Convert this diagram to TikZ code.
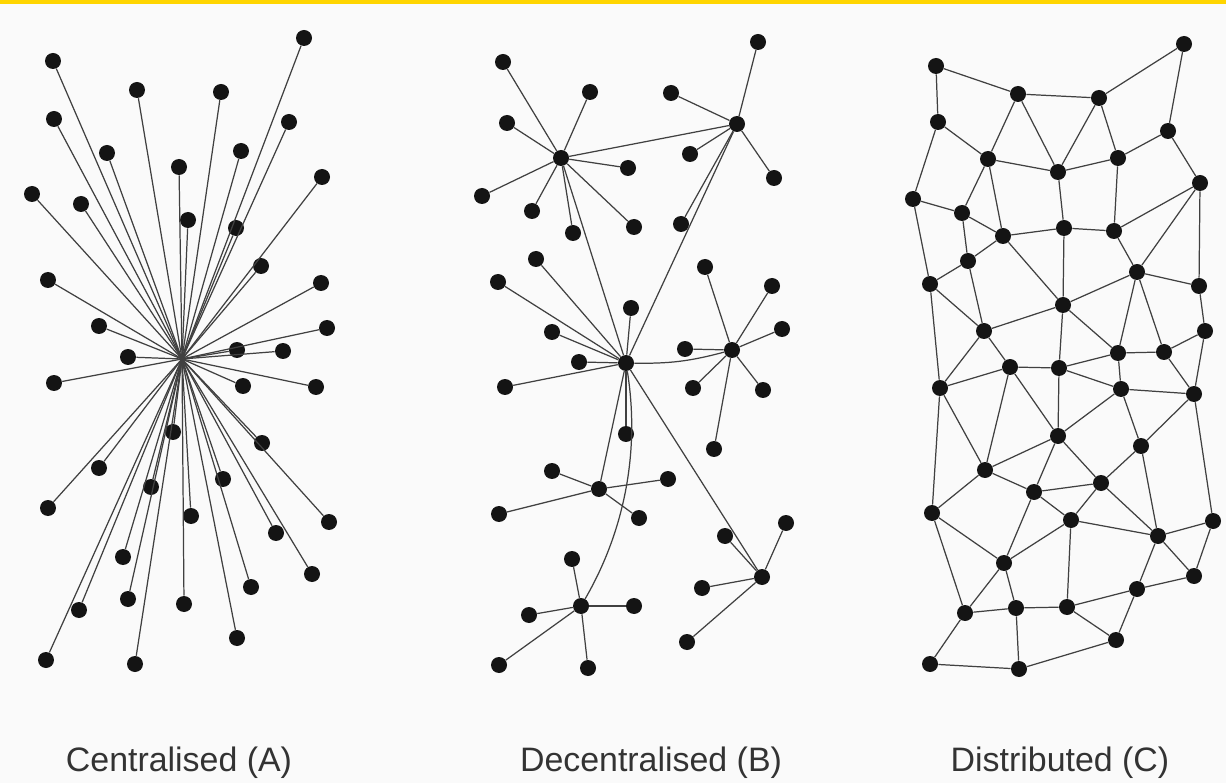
\documentclass[tikz,border=0pt]{standalone}
\usepackage{fontspec}
\newfontfamily\netfont{Liberation Sans}
\usepackage{tikz}
\definecolor{paper}{HTML}{FAFAFA}
\definecolor{bar}{HTML}{FFD500}
\begin{document}
\begin{tikzpicture}[x=.02cm, y=-.02cm,
peer/.style={inner sep=0pt, minimum size=.32cm, fill=black!92, circle},
link/.style={draw=black!75, line width=.7pt},
caption/.style={anchor=base, text=black!80, font=\netfont\fontsize{19.3}{23}\selectfont}]
\fill [paper] (0,0) rectangle (1226,783);
\fill [bar] (0,0) rectangle (1226,4);
\useasboundingbox (0,0) rectangle (1226,783);

\coordinate (a0) at (182,359);
\node [peer] (a1) at (304,38) {};
\node [peer] (a2) at (53,61) {};
\node [peer] (a3) at (137,90) {};
\node [peer] (a4) at (221,92) {};
\node [peer] (a5) at (54,119) {};
\node [peer] (a6) at (289,122) {};
\node [peer] (a7) at (107,153) {};
\node [peer] (a8) at (241,151) {};
\node [peer] (a9) at (179,167) {};
\node [peer] (a10) at (322,177) {};
\node [peer] (a11) at (32,194) {};
\node [peer] (a12) at (81,204) {};
\node [peer] (a13) at (188,220) {};
\node [peer] (a14) at (236,228) {};
\node [peer] (a15) at (261,266) {};
\node [peer] (a16) at (48,280) {};
\node [peer] (a17) at (321,283) {};
\node [peer] (a18) at (99,326) {};
\node [peer] (a19) at (327,328) {};
\node [peer] (a20) at (128,357) {};
\node [peer] (a21) at (237,350) {};
\node [peer] (a22) at (283,351) {};
\node [peer] (a23) at (54,383) {};
\node [peer] (a24) at (243,386) {};
\node [peer] (a25) at (316,387) {};
\node [peer] (a26) at (173,432) {};
\node [peer] (a27) at (262,443) {};
\node [peer] (a28) at (99,468) {};
\node [peer] (a29) at (151,487) {};
\node [peer] (a30) at (223,479) {};
\node [peer] (a31) at (48,508) {};
\node [peer] (a32) at (191,516) {};
\node [peer] (a33) at (329,522) {};
\node [peer] (a34) at (276,533) {};
\node [peer] (a35) at (123,557) {};
\node [peer] (a36) at (312,574) {};
\node [peer] (a37) at (251,587) {};
\node [peer] (a38) at (128,599) {};
\node [peer] (a39) at (184,604) {};
\node [peer] (a40) at (79,610) {};
\node [peer] (a41) at (237,638) {};
\node [peer] (a42) at (46,660) {};
\node [peer] (a43) at (135,664) {};
\draw [link] (a0) edge (a1);
\draw [link] (a0) edge (a2);
\draw [link] (a0) edge (a3);
\draw [link] (a0) edge (a4);
\draw [link] (a0) edge (a5);
\draw [link] (a0) edge (a6);
\draw [link] (a0) edge (a7);
\draw [link] (a0) edge (a8);
\draw [link] (a0) edge (a9);
\draw [link] (a0) edge (a10);
\draw [link] (a0) edge (a11);
\draw [link] (a0) edge (a12);
\draw [link] (a0) edge (a13);
\draw [link] (a0) edge (a14);
\draw [link] (a0) edge (a15);
\draw [link] (a0) edge (a16);
\draw [link] (a0) edge (a17);
\draw [link] (a0) edge (a18);
\draw [link] (a0) edge (a19);
\draw [link] (a0) edge (a20);
\draw [link] (a0) edge (a21);
\draw [link] (a0) edge (a22);
\draw [link] (a0) edge (a23);
\draw [link] (a0) edge (a24);
\draw [link] (a0) edge (a25);
\draw [link] (a0) edge (a26);
\draw [link] (a0) edge (a27);
\draw [link] (a0) edge (a28);
\draw [link] (a0) edge (a29);
\draw [link] (a0) edge (a30);
\draw [link] (a0) edge (a31);
\draw [link] (a0) edge (a32);
\draw [link] (a0) edge (a33);
\draw [link] (a0) edge (a34);
\draw [link] (a0) edge (a35);
\draw [link] (a0) edge (a36);
\draw [link] (a0) edge (a37);
\draw [link] (a0) edge (a38);
\draw [link] (a0) edge (a39);
\draw [link] (a0) edge (a40);
\draw [link] (a0) edge (a41);
\draw [link] (a0) edge (a42);
\draw [link] (a0) edge (a43);

\node [peer] (d1) at (561,158) {};
\node [peer] (d2) at (737,124) {};
\node [peer] (d3) at (626,363) {};
\node [peer] (d4) at (732,350) {};
\node [peer] (d5) at (599,489) {};
\node [peer] (d6) at (581,606) {};
\node [peer] (d7) at (762,577) {};
\node [peer] (d1a) at (503,62) {};
\node [peer] (d1b) at (590,92) {};
\node [peer] (d1c) at (507,123) {};
\node [peer] (d1d) at (628,168) {};
\node [peer] (d1e) at (482,196) {};
\node [peer] (d1f) at (532,211) {};
\node [peer] (d1g) at (634,227) {};
\node [peer] (d1h) at (573,233) {};
\node [peer] (d2a) at (758,42) {};
\node [peer] (d2b) at (671,93) {};
\node [peer] (d2c) at (690,154) {};
\node [peer] (d2d) at (774,178) {};
\node [peer] (d2e) at (681,224) {};
\node [peer] (d3a) at (536,259) {};
\node [peer] (d3b) at (498,282) {};
\node [peer] (d3c) at (631,308) {};
\node [peer] (d3d) at (552,332) {};
\node [peer] (d3e) at (579,362) {};
\node [peer] (d3f) at (505,387) {};
\node [peer] (d3g) at (626,434) {};
\node [peer] (d4a) at (705,267) {};
\node [peer] (d4b) at (772,286) {};
\node [peer] (d4c) at (782,329) {};
\node [peer] (d4d) at (685,349) {};
\node [peer] (d4e) at (693,388) {};
\node [peer] (d4f) at (763,390) {};
\node [peer] (d4g) at (714,449) {};
\node [peer] (d5a) at (552,471) {};
\node [peer] (d5b) at (668,479) {};
\node [peer] (d5c) at (499,514) {};
\node [peer] (d5d) at (639,518) {};
\node [peer] (d6a) at (572,559) {};
\node [peer] (d6b) at (634,606) {};
\node [peer] (d6c) at (529,615) {};
\node [peer] (d6d) at (499,665) {};
\node [peer] (d6e) at (588,668) {};
\node [peer] (d7a) at (786,523) {};
\node [peer] (d7b) at (725,536) {};
\node [peer] (d7c) at (702,588) {};
\node [peer] (d7d) at (687,642) {};
\draw [link] (d1) edge (d2);
\draw [link] (d1) edge (d3);
\draw [link] (d2) edge (d3);
\draw [link] (d3) to [bend right=8] (d4);
\draw [link] (d3) edge (d5);
\draw [link] (d3) .. controls (640,450) and (625,530) .. (d6);
\draw [link] (d3) edge (d7);
\draw [link] (d1) edge (d1a);
\draw [link] (d1) edge (d1b);
\draw [link] (d1) edge (d1c);
\draw [link] (d1) edge (d1d);
\draw [link] (d1) edge (d1e);
\draw [link] (d1) edge (d1f);
\draw [link] (d1) edge (d1g);
\draw [link] (d1) edge (d1h);
\draw [link] (d2) edge (d2a);
\draw [link] (d2) edge (d2b);
\draw [link] (d2) edge (d2c);
\draw [link] (d2) edge (d2d);
\draw [link] (d2) edge (d2e);
\draw [link] (d3) edge (d3a);
\draw [link] (d3) edge (d3b);
\draw [link] (d3) edge (d3c);
\draw [link] (d3) edge (d3d);
\draw [link] (d3) edge (d3e);
\draw [link] (d3) edge (d3f);
\draw [link] (d3) edge (d3g);
\draw [link] (d4) edge (d4a);
\draw [link] (d4) edge (d4b);
\draw [link] (d4) edge (d4c);
\draw [link] (d4) edge (d4d);
\draw [link] (d4) edge (d4e);
\draw [link] (d4) edge (d4f);
\draw [link] (d4) edge (d4g);
\draw [link] (d5) edge (d5a);
\draw [link] (d5) edge (d5b);
\draw [link] (d5) edge (d5c);
\draw [link] (d5) edge (d5d);
\draw [link] (d6) edge (d6a);
\draw [link] (d6) edge (d6b);
\draw [link] (d6) edge (d6c);
\draw [link] (d6) edge (d6d);
\draw [link] (d6) edge (d6e);
\draw [link] (d7) edge (d7a);
\draw [link] (d7) edge (d7b);
\draw [link] (d7) edge (d7c);
\draw [link] (d7) edge (d7d);

\node [peer] (ga1) at (936,66) {};
\node [peer] (ga2) at (1018,94) {};
\node [peer] (ga3) at (1099,98) {};
\node [peer] (ga4) at (1184,44) {};
\node [peer] (gb1) at (938,122) {};
\node [peer] (gb4) at (1168,131) {};
\node [peer] (gc1) at (988,159) {};
\node [peer] (gc2) at (1058,172) {};
\node [peer] (gc3) at (1118,158) {};
\node [peer] (gc4) at (1200,183) {};
\node [peer] (gd0) at (913,199) {};
\node [peer] (gd1) at (962,213) {};
\node [peer] (gd2) at (1003,236) {};
\node [peer] (gd3) at (1064,228) {};
\node [peer] (gd4) at (1114,231) {};
\node [peer] (ge0) at (930,284) {};
\node [peer] (ge1) at (968,261) {};
\node [peer] (ge2) at (1137,272) {};
\node [peer] (ge3) at (1199,286) {};
\node [peer] (gf1) at (984,331) {};
\node [peer] (gf2) at (1063,305) {};
\node [peer] (gf4) at (1205,331) {};
\node [peer] (gg0) at (1010,367) {};
\node [peer] (gg1) at (1059,368) {};
\node [peer] (gg2) at (1118,353) {};
\node [peer] (gg3) at (1164,352) {};
\node [peer] (gh0) at (940,388) {};
\node [peer] (gh2) at (1121,389) {};
\node [peer] (gh3) at (1194,394) {};
\node [peer] (gi1) at (1058,436) {};
\node [peer] (gi2) at (1141,446) {};
\node [peer] (gj1) at (985,470) {};
\node [peer] (gj2) at (1034,492) {};
\node [peer] (gj3) at (1101,483) {};
\node [peer] (gk0) at (932,513) {};
\node [peer] (gk2) at (1071,520) {};
\node [peer] (gk4) at (1158,536) {};
\node [peer] (gk5) at (1213,521) {};
\node [peer] (gl1) at (1004,563) {};
\node [peer] (gl4) at (1194,576) {};
\node [peer] (gm0) at (965,613) {};
\node [peer] (gm1) at (1016,608) {};
\node [peer] (gm2) at (1067,607) {};
\node [peer] (gm3) at (1137,589) {};
\node [peer] (gn0) at (930,664) {};
\node [peer] (gn1) at (1019,669) {};
\node [peer] (gn2) at (1116,640) {};
\draw [link] (ga1) edge (ga2);
\draw [link] (ga1) edge (gb1);
\draw [link] (ga2) edge (ga3);
\draw [link] (ga3) edge (ga4);
\draw [link] (ga4) edge (gb4);
\draw [link] (ga2) edge (gc1);
\draw [link] (ga2) edge (gc2);
\draw [link] (ga3) edge (gc2);
\draw [link] (ga3) edge (gc3);
\draw [link] (gb1) edge (gc1);
\draw [link] (gb1) edge (gd0);
\draw [link] (gc1) edge (gc2);
\draw [link] (gc2) edge (gc3);
\draw [link] (gc3) edge (gb4);
\draw [link] (gb4) edge (gc4);
\draw [link] (gc1) edge (gd1);
\draw [link] (gc1) edge (gd2);
\draw [link] (gc2) edge (gd3);
\draw [link] (gc3) edge (gd4);
\draw [link] (gd0) edge (gd1);
\draw [link] (gd1) edge (gd2);
\draw [link] (gd2) edge (gd3);
\draw [link] (gd3) edge (gd4);
\draw [link] (gd4) edge (gc4);
\draw [link] (gd0) edge (ge0);
\draw [link] (gd1) edge (ge1);
\draw [link] (gd2) edge (ge1);
\draw [link] (gd2) edge (gf2);
\draw [link] (gd3) edge (gf2);
\draw [link] (gd4) edge (ge2);
\draw [link] (gc4) edge (ge2);
\draw [link] (gc4) edge (ge3);
\draw [link] (ge0) edge (ge1);
\draw [link] (ge1) edge (gf1);
\draw [link] (ge0) edge (gf1);
\draw [link] (ge0) edge (gh0);
\draw [link] (ge2) edge (ge3);
\draw [link] (ge2) edge (gf2);
\draw [link] (ge2) edge (gg2);
\draw [link] (ge2) edge (gg3);
\draw [link] (ge3) edge (gf4);
\draw [link] (gf1) edge (gf2);
\draw [link] (gf1) edge (gg0);
\draw [link] (gf1) edge (gh0);
\draw [link] (gf2) edge (gg1);
\draw [link] (gf2) edge (gg2);
\draw [link] (gf4) edge (gg3);
\draw [link] (gf4) edge (gh3);
\draw [link] (gg0) edge (gg1);
\draw [link] (gg0) edge (gh0);
\draw [link] (gg0) edge (gi1);
\draw [link] (gg0) edge (gj1);
\draw [link] (gg1) edge (gg2);
\draw [link] (gg1) edge (gh2);
\draw [link] (gg1) edge (gi1);
\draw [link] (gg2) edge (gg3);
\draw [link] (gg2) edge (gh2);
\draw [link] (gg3) edge (gh3);
\draw [link] (gh0) edge (gj1);
\draw [link] (gh0) edge (gk0);
\draw [link] (gh2) edge (gh3);
\draw [link] (gh2) edge (gi1);
\draw [link] (gh2) edge (gi2);
\draw [link] (gh3) edge (gi2);
\draw [link] (gh3) edge (gk5);
\draw [link] (gi1) edge (gj1);
\draw [link] (gi1) edge (gj2);
\draw [link] (gi1) edge (gj3);
\draw [link] (gi2) edge (gj3);
\draw [link] (gi2) edge (gk4);
\draw [link] (gj1) edge (gj2);
\draw [link] (gj1) edge (gk0);
\draw [link] (gj2) edge (gj3);
\draw [link] (gj2) edge (gk2);
\draw [link] (gj2) edge (gl1);
\draw [link] (gj3) edge (gk2);
\draw [link] (gj3) edge (gk4);
\draw [link] (gk0) edge (gl1);
\draw [link] (gk0) edge (gm0);
\draw [link] (gk2) edge (gk4);
\draw [link] (gk2) edge (gl1);
\draw [link] (gk2) edge (gm2);
\draw [link] (gk4) edge (gk5);
\draw [link] (gk4) edge (gl4);
\draw [link] (gk4) edge (gm3);
\draw [link] (gk5) edge (gl4);
\draw [link] (gl1) edge (gm0);
\draw [link] (gl1) edge (gm1);
\draw [link] (gl4) edge (gm3);
\draw [link] (gm0) edge (gm1);
\draw [link] (gm0) edge (gn0);
\draw [link] (gm1) edge (gm2);
\draw [link] (gm1) edge (gn1);
\draw [link] (gm2) edge (gm3);
\draw [link] (gm2) edge (gn2);
\draw [link] (gm3) edge (gn2);
\draw [link] (gn0) edge (gn1);
\draw [link] (gn1) edge (gn2);

\node [caption] (capA) at (179,771) {Centralised (A)};
\node [caption] (capB) at (651,771) {Decentralised (B)};
\node [caption] (capC) at (1060,771) {Distributed (C)};
\end{tikzpicture}
\end{document}
